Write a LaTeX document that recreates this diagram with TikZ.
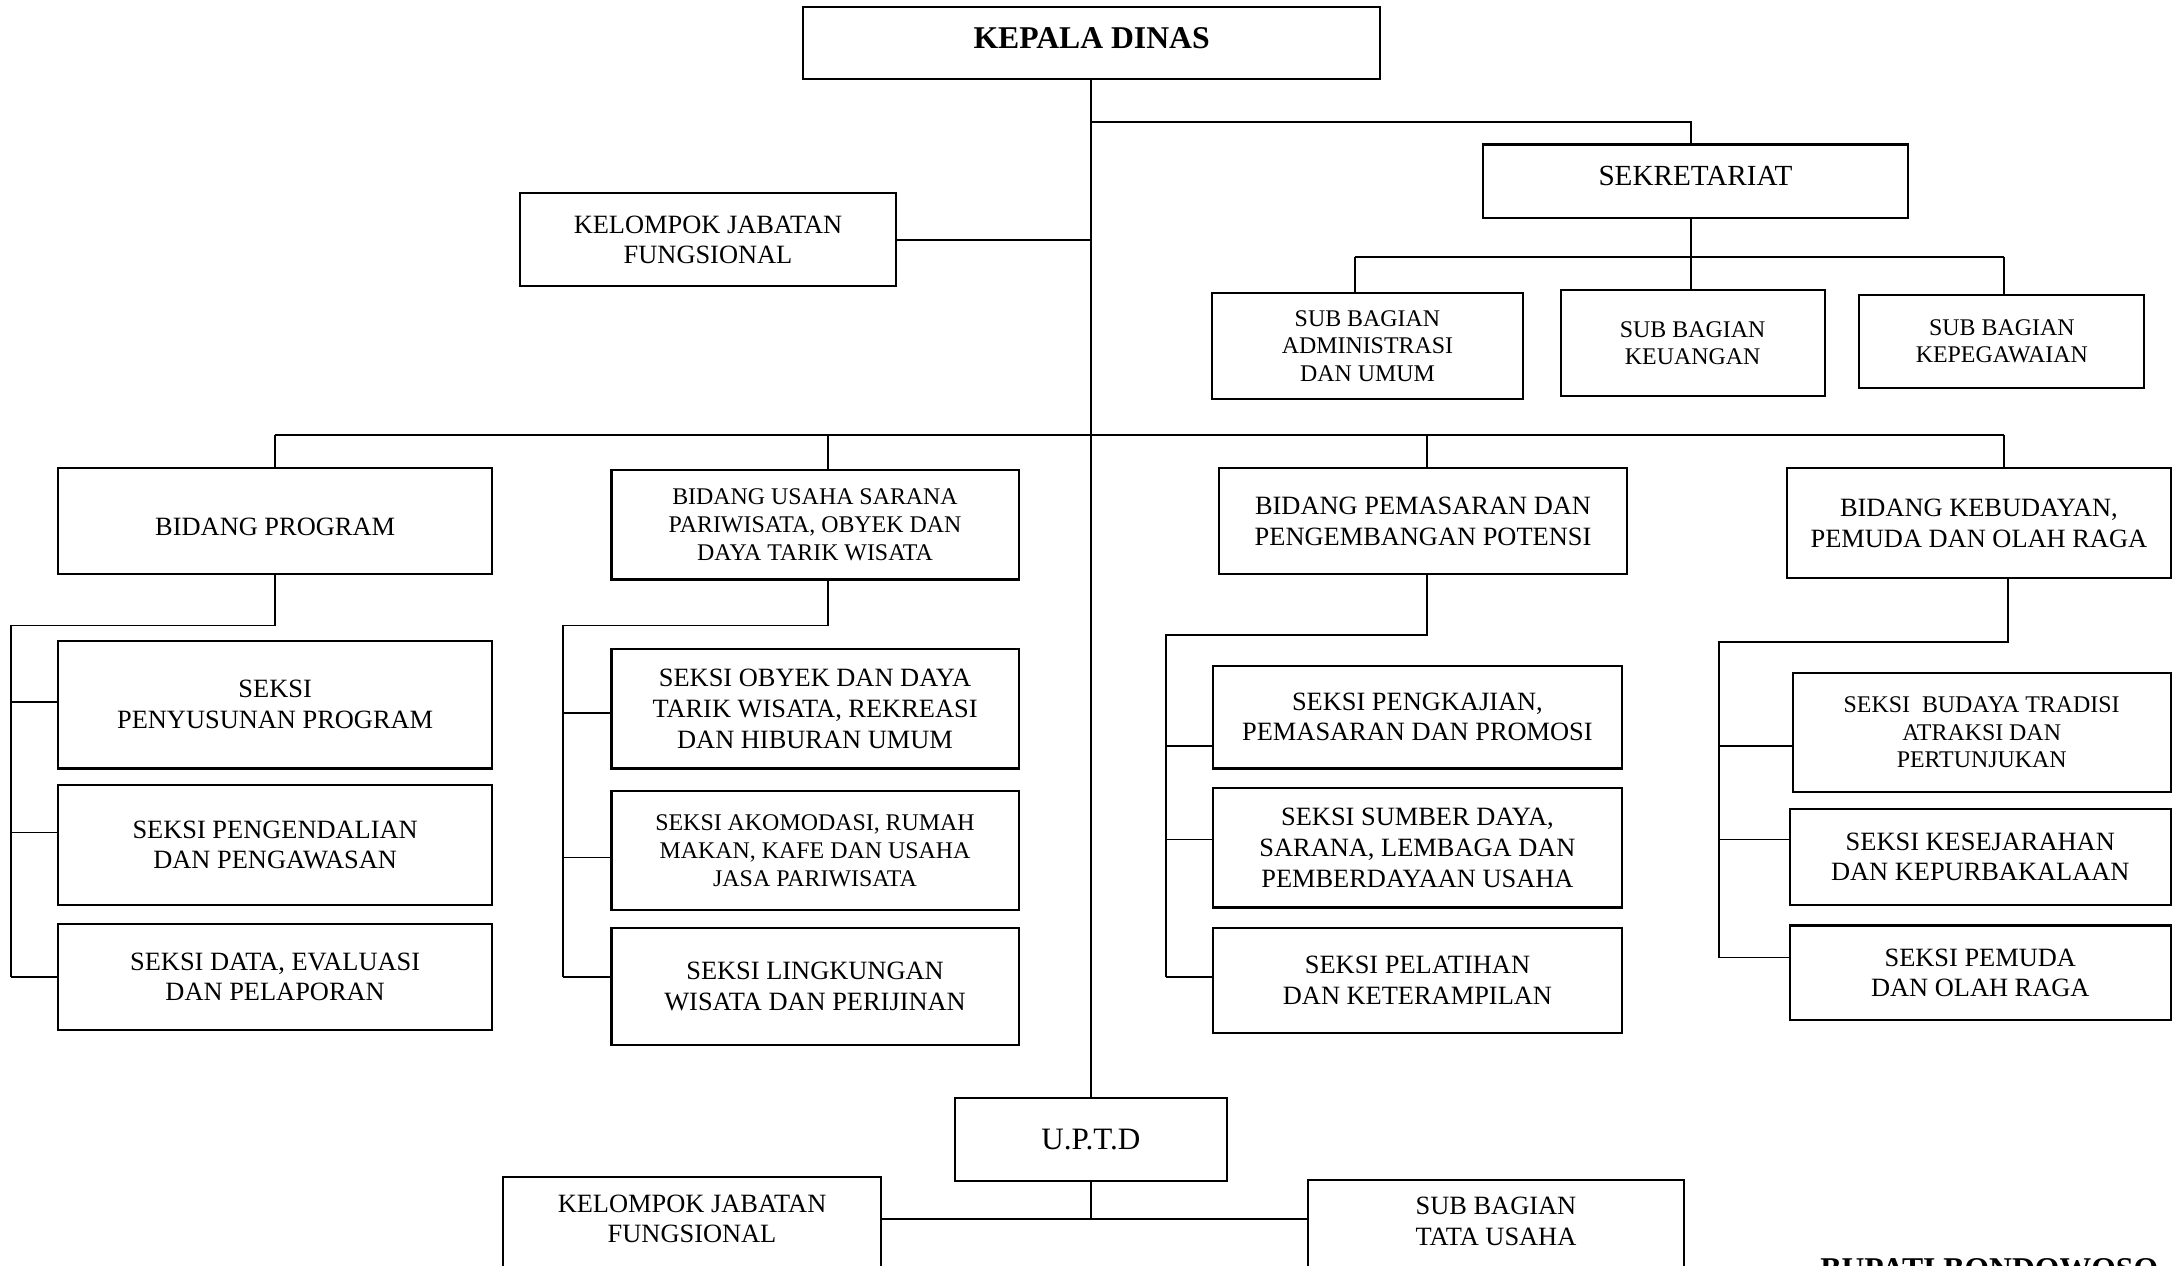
\documentclass[tikz,border=0pt]{standalone}
\usepackage{fontspec}
\setmainfont{Liberation Serif}
\begin{document}
\begin{tikzpicture}[x=0.5pt,y=-0.5pt,
  box/.style={draw, line width=0.75pt, inner sep=2pt, align=center,
    font=\fontsize{9.5}{11}\selectfont},
  small/.style={font=\fontsize{8.6}{10}\selectfont},
  mid/.style={font=\fontsize{9.5}{11.25}\selectfont},
  dim/.style 2 args={minimum width=#1*0.5pt, minimum height=#2*0.5pt},
  label text/.style={align=center, inner sep=0pt, font=\fontsize{9.5}{11}\selectfont},
  link/.style={line width=0.6pt}]
\useasboundingbox (0,0) rectangle (1568,911);

% --- top level ---
\node[box, dim={415}{52}, text depth=4pt, font=\bfseries\fontsize{11.4}{13}\selectfont] (kd) at (785.5,31) {KEPALA DINAS};
\node[box, dim={306}{53}, text depth=4pt, font=\fontsize{10.5}{12}\selectfont] (sek) at (1220,130.5) {SEKRETARIAT};
\node[box, dim={271}{67}] (kjf) at (509.5,172.5) {KELOMPOK JABATAN\\FUNGSIONAL};

% --- sub bagian under sekretariat ---
\node[box, small, dim={224}{76}] (sba) at (984,249) {SUB BAGIAN\\ADMINISTRASI\\DAN UMUM};
\node[box, small, dim={190}{76}] (sbk) at (1218,247) {SUB BAGIAN\\KEUANGAN};
\node[box, small, dim={205}{67}] (sbp) at (1440.5,245.5) {SUB BAGIAN\\KEPEGAWAIAN};

% --- bidang ---
\node[box, dim={312}{76}, text height=10.3pt] (bp) at (198,375) {BIDANG PROGRAM};
\node[box, small, dim={293}{79}] (bu) at (586.5,377.5) {BIDANG USAHA SARANA\\PARIWISATA, OBYEK DAN\\DAYA TARIK WISATA};
\node[box, dim={294}{76}] (bm) at (1024,375) {BIDANG PEMASARAN DAN\\PENGEMBANGAN POTENSI};
\node[box, dim={276}{79}] (bk) at (1424,376.5) {BIDANG KEBUDAYAN,\\PEMUDA DAN OLAH RAGA};

% --- seksi: bidang program ---
\node[box, dim={312}{92}] (s1) at (198,507) {SEKSI\\PENYUSUNAN PROGRAM};
\node[box, dim={312}{86}] (s2) at (198,608) {SEKSI PENGENDALIAN\\DAN PENGAWASAN};
\node[box, dim={312}{76}] (s3) at (198,703) {SEKSI DATA, EVALUASI\\DAN PELAPORAN};

% --- seksi: bidang usaha sarana ---
\node[box, mid, dim={293}{86}] (u1) at (586.5,510) {SEKSI OBYEK DAN DAYA\\TARIK WISATA, REKREASI\\DAN HIBURAN UMUM};
\node[box, small, dim={293}{86}] (u2) at (586.5,612) {SEKSI AKOMODASI, RUMAH\\MAKAN, KAFE DAN USAHA\\JASA PARIWISATA};
\node[box, dim={293}{84}] (u3) at (586.5,710) {SEKSI LINGKUNGAN\\WISATA DAN PERIJINAN};

% --- seksi: bidang pemasaran ---
\node[box, dim={294}{74}] (p1) at (1020,516) {SEKSI PENGKAJIAN,\\PEMASARAN DAN PROMOSI};
\node[box, mid, dim={294}{86}] (p2) at (1020,610) {SEKSI SUMBER DAYA,\\SARANA, LEMBAGA DAN\\PEMBERDAYAAN USAHA};
\node[box, dim={294}{75}] (p3) at (1020,705.5) {SEKSI PELATIHAN\\DAN KETERAMPILAN};

% --- seksi: bidang kebudayan ---
\node[box, small, dim={272}{86}] (k1) at (1426,527) {SEKSI\ \ BUDAYA TRADISI\\ATRAKSI DAN\\PERTUNJUKAN};
\node[box, dim={274}{69}] (k2) at (1425,616.5) {SEKSI KESEJARAHAN\\DAN KEPURBAKALAAN};
\node[box, dim={274}{68}] (k3) at (1425,700) {SEKSI PEMUDA\\DAN OLAH RAGA};

% --- UPTD ---
\node[box, dim={196}{60}, font=\fontsize{11.2}{13}\selectfont] (uptd) at (785,820) {U.P.T.D};
\node[box, dim={272}{110}] (kjf2) at (498,902) {};
\node[label text] (kjf2t) at (498,877) {KELOMPOK JABATAN\\FUNGSIONAL};
\node[box, dim={271}{110}] (sbtu) at (1076.5,904) {};
\node[label text] (sbtut) at (1076.5,879) {SUB BAGIAN\\TATA USAHA};

\node[font=\bfseries\fontsize{11.4}{13}\selectfont, anchor=base, inner sep=0pt] (bupati) at (1431.5,921) {BUPATI BONDOWOSO};

% --- junction points ---
\coordinate (jsek) at (785,88);
\coordinate (jkjf) at (785,173);
\coordinate (sbus) at (1217,185);
\coordinate (mbus) at (785,313);
\coordinate (jup) at (785,877);

% main trunk
\draw[link] (kd.south -| jsek) -- (uptd.north -| jsek);
% sekretariat
\draw[link] (jsek) -| (sek.north -| sbus);
\draw[link] (sek.south -| sbus) -- (sbus);
\draw[link] (975,185) -- (1442,185);
\draw[link] (975,185) -- (sba.north -| 975,0);
\draw[link] (sbus) -- (sbk.north -| sbus);
\draw[link] (1442,185) -- (sbp.north -| 1442,0);
% kelompok jabatan fungsional
\draw[link] (kjf.east) -- (kjf.east -| jkjf);
% bidang bus
\draw[link] (198,313) -- (1442,313);
\draw[link] (198,313) -- (bp.north);
\draw[link] (596,313) -- (bu.north -| 596,0);
\draw[link] (1027,313) -- (bm.north -| 1027,0);
\draw[link] (1442,313) -- (bk.north -| 1442,0);

% bidang program branch
\draw[link] (bp.south) -- (198,450) -- (8,450) -- (8,703);
\draw[link] (8,505) -- (s1.west |- 8,505);
\draw[link] (8,599) -- (s2.west |- 8,599);
\draw[link] (8,703) -- (s3.west |- 8,703);

% bidang usaha branch
\draw[link] (bu.south -| 596,0) -- (596,450) -- (405,450) -- (405,703);
\draw[link] (405,513) -- (u1.west |- 405,513);
\draw[link] (405,617) -- (u2.west |- 405,617);
\draw[link] (405,703) -- (u3.west |- 405,703);

% bidang pemasaran branch
\draw[link] (bm.south -| 1027,0) -- (1027,457) -- (839,457) -- (839,703);
\draw[link] (839,537) -- (p1.west |- 839,537);
\draw[link] (839,604) -- (p2.west |- 839,604);
\draw[link] (839,703) -- (p3.west |- 839,703);

% bidang kebudayan branch
\draw[link] (bk.south -| 1445,0) -- (1445,462) -- (1237,462) -- (1237,689);
\draw[link] (1237,537) -- (k1.west |- 1237,537);
\draw[link] (1237,604) -- (k2.west |- 1237,604);
\draw[link] (1237,689) -- (k3.west |- 1237,689);

% UPTD children
\draw[link] (uptd.south) -- (jup);
\draw[link] (kjf2.east |- jup) -- (sbtu.west |- jup);
\end{tikzpicture}
\end{document}
